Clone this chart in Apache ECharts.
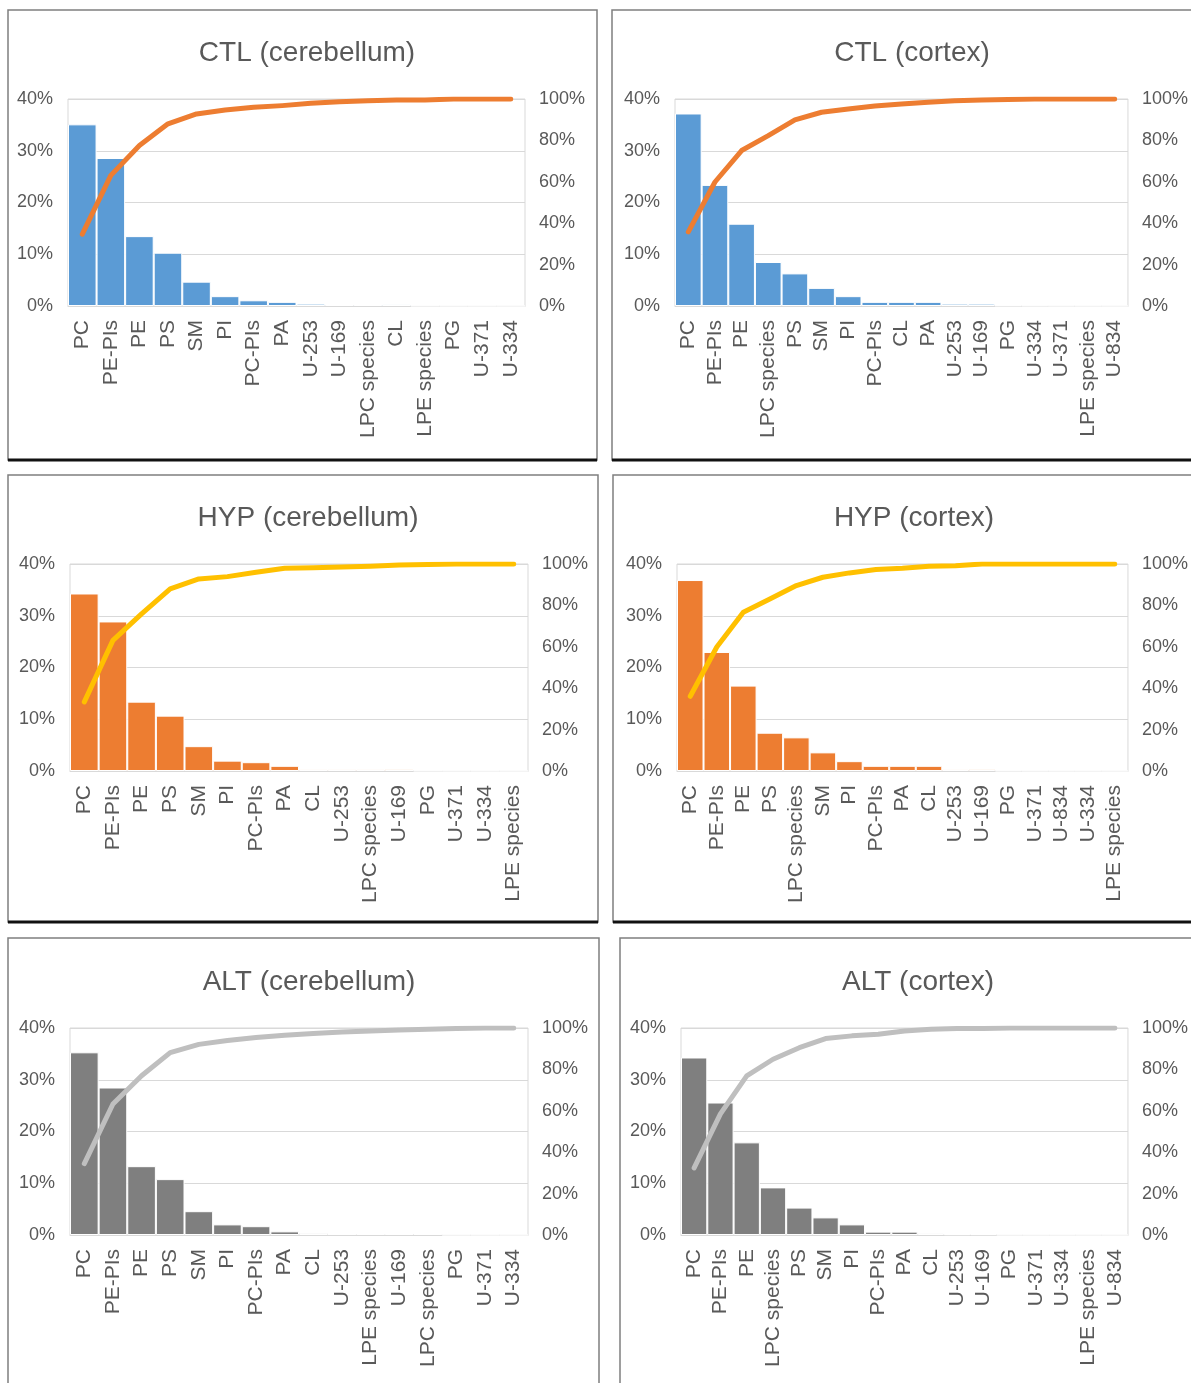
<!DOCTYPE html>
<html><head><meta charset="utf-8">
<script src="https://cdn.jsdelivr.net/npm/echarts@6/dist/echarts.min.js"></script>
<style>html,body{margin:0;padding:0;background:#fff}#c{width:1191px;height:1383px}</style>
</head><body><div id="c"></div>
<script>
// ---- data ----
const titles = ['CTL (cerebellum)','CTL (cortex)','HYP (cerebellum)','HYP (cortex)','ALT (cerebellum)','ALT (cortex)'];

const cat_ctl_cb = ['PC','PE-PIs','PE','PS','SM','PI','PC-PIs','PA','U-253','U-169','LPC species','CL','LPE species','PG','U-371','U-334'];
const bar_ctl_cb = [35.1,28.6,13.5,10.3,4.7,1.9,1.1,0.8,0.45,0.25,0.25,0.3,0.05,0.03,0.02,0.01];
const cum_ctl_cb = [34.7,63.1,77.5,88.0,92.8,94.7,96.0,96.8,97.9,98.7,99.2,99.5,99.5,100,100,100];

const cat_ctl_cx = ['PC','PE-PIs','PE','LPC species','PS','SM','PI','PC-PIs','CL','PA','U-253','U-169','PG','U-334','U-371','LPE species','U-834'];
const bar_ctl_cx = [37.2,23.4,15.9,8.5,6.3,3.5,1.9,0.8,0.8,0.8,0.45,0.45,0.1,0.05,0.03,0.02,0.01];
const cum_ctl_cx = [35.8,59.9,75.1,82.3,89.9,93.6,95.2,96.6,97.6,98.4,99.2,99.5,99.7,100,100,100,100];

const cat_hyp_cb = ['PC','PE-PIs','PE','PS','SM','PI','PC-PIs','PA','CL','U-253','LPC species','U-169','PG','U-371','U-334','LPE species'];
const bar_hyp_cb = [34.3,28.9,13.4,10.7,4.8,2.0,1.7,1.0,0.3,0.3,0.3,0.35,0.05,0.03,0.02,0.01];
const cum_hyp_cb = [33.4,63.1,75.9,88.0,92.8,93.9,96.0,97.9,98.2,98.6,98.9,99.5,99.7,100,100,100];

const cat_hyp_cx = ['PC','PE-PIs','PE','PS','LPC species','SM','PI','PC-PIs','PA','CL','U-253','U-169','PG','U-371','U-834','U-334','LPE species'];
const bar_hyp_cx = [36.9,23.0,16.5,7.4,6.5,3.6,1.9,1.0,1.0,1.0,0.3,0.35,0.05,0.03,0.02,0.02,0.01];
const cum_hyp_cx = [36.1,59.9,76.7,83.1,89.6,93.6,95.7,97.3,97.9,98.9,99.2,100,100,100,100,100,100];

const cat_alt_cb = ['PC','PE-PIs','PE','PS','SM','PI','PC-PIs','PA','CL','U-253','LPE species','U-169','LPC species','PG','U-371','U-334'];
const bar_alt_cb = [35.3,28.5,13.3,10.8,4.6,2.05,1.7,0.7,0.4,0.2,0.2,0.2,0.2,0.03,0.02,0.01];
const cum_alt_cb = [34.5,63.3,76.9,88.1,92.1,94.0,95.4,96.5,97.3,98.1,98.6,99.0,99.4,99.8,100,100];

const cat_alt_cx = ['PC','PE-PIs','PE','LPC species','PS','SM','PI','PC-PIs','PA','CL','U-253','U-169','PG','U-371','U-334','LPE species','U-834'];
const bar_alt_cx = [34.3,25.6,17.9,9.2,5.3,3.4,2.05,0.65,0.65,0.3,0.15,0.15,0.03,0.02,0.02,0.01,0.01];
const cum_alt_cx = [32.4,58.5,76.9,84.9,90.5,94.9,96.2,97.0,98.6,99.4,99.7,99.8,100,100,100,100,100];

const leftTicks = [0,10,20,30,40];
const rightTicks = [0,20,40,60,80,100];

// ---- layout / style ----
const panels = [
  {cats:cat_ctl_cb, bars:bar_ctl_cb, cum:cum_ctl_cb, grid:[68,99,457,207], title:[302,34], box:[8,10,589,450], bar:'#5B9BD5', line:'#ED7D31'},
  {cats:cat_ctl_cx, bars:bar_ctl_cx, cum:cum_ctl_cx, grid:[675,99,465,207], title:[907,34], box:[612,10,590,450], bar:'#5B9BD5', line:'#ED7D31'},
  {cats:cat_hyp_cb, bars:bar_hyp_cb, cum:cum_hyp_cb, grid:[70,564,458,207], title:[303,499], box:[8,475,590,447], bar:'#ED7D31', line:'#FFC000'},
  {cats:cat_hyp_cx, bars:bar_hyp_cx, cum:cum_hyp_cx, grid:[677,564,464,207], title:[909,499], box:[613,475,590,447], bar:'#ED7D31', line:'#FFC000'},
  {cats:cat_alt_cb, bars:bar_alt_cb, cum:cum_alt_cb, grid:[70,1028,458,207], title:[304,963], box:[8,938,591,460], bar:'#7F7F7F', line:'#BFBFBF'},
  {cats:cat_alt_cx, bars:bar_alt_cx, cum:cum_alt_cx, grid:[681,1028,463,207], title:[913,963], box:[620,938,590,460], bar:'#7F7F7F', line:'#BFBFBF'}
];

const FONT = '"Liberation Sans",Arial,sans-serif';
const TXT = '#595959';
const option = {
  animation:false,
  backgroundColor:'#fff',
  title:[], grid:[], xAxis:[], yAxis:[], series:[], graphic:[]
};

panels.forEach((p,i)=>{
  const [gl,gt,gw,gh] = p.grid;
  option.title.push({text:titles[i], left:p.title[0], top:p.title[1], textAlign:'center',
    textStyle:{fontFamily:FONT, fontSize:28, fontWeight:'normal', color:TXT}});
  option.grid.push({left:gl, top:gt, width:gw, height:gh, show:true, borderColor:'#D9D9D9', borderWidth:1, backgroundColor:'transparent'});
  option.xAxis.push({type:'category', gridIndex:i, data:p.cats,
    axisLine:{show:true, lineStyle:{color:'#D9D9D9', width:1}}, axisTick:{show:false},
    axisLabel:{rotate:90, interval:0, margin:14, fontSize:21, color:TXT, fontFamily:FONT}});
  option.yAxis.push({type:'value', gridIndex:i, min:leftTicks[0], max:leftTicks[leftTicks.length-1], interval:10,
    axisLine:{show:false}, axisTick:{show:false},
    splitLine:{show:true, lineStyle:{color:'#D9D9D9', width:1}},
    axisLabel:{formatter:'{value}%', margin:15, fontSize:18, color:TXT, fontFamily:FONT}});
  option.yAxis.push({type:'value', gridIndex:i, position:'right', min:rightTicks[0], max:rightTicks[rightTicks.length-1], interval:20,
    axisLine:{show:false}, axisTick:{show:false}, splitLine:{show:false},
    axisLabel:{formatter:'{value}%', margin:14, fontSize:18, color:TXT, fontFamily:FONT}});
  option.series.push({type:'bar', xAxisIndex:i, yAxisIndex:2*i, data:p.bars, barCategoryGap:0,
    itemStyle:{color:p.bar, borderColor:'#fff', borderWidth:1}});
  option.series.push({type:'line', xAxisIndex:i, yAxisIndex:2*i+1, data:p.cum, showSymbol:false, symbol:'none',
    lineStyle:{color:p.line, width:5, cap:'round', join:'round'}, z:5});
  const [bx,by,bw,bh] = p.box;
  option.graphic.push({type:'rect', shape:{x:bx,y:by,width:bw,height:bh}, style:{fill:'none', stroke:'#7f7f7f', lineWidth:1.5}, z:-1});
  option.graphic.push({type:'line', shape:{x1:bx,y1:by+bh,x2:bx+bw,y2:by+bh}, style:{stroke:'#111', lineWidth:3}, z:-1});
});

const chart = echarts.init(document.getElementById('c'), null, {renderer:'canvas'});
chart.setOption(option);
</script>
</body></html>
